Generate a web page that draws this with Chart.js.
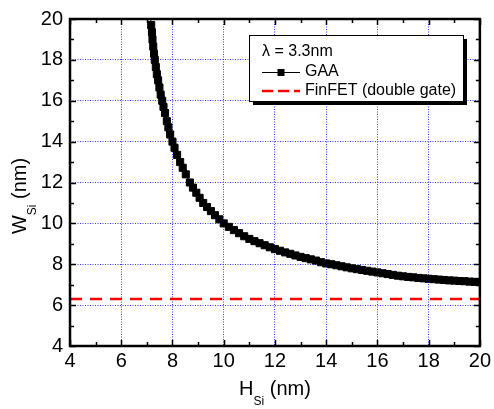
<!DOCTYPE html>
<html>
<head>
<meta charset="utf-8">
<script src="https://cdn.jsdelivr.net/npm/chart.js@4/dist/chart.umd.min.js"></script>
<style>
  html, body { margin: 0; padding: 0; background: #fff; }
  #wrap { width: 494px; height: 409px; }
</style>
</head>
<body>
<div id="wrap"><canvas id="c" width="494" height="409"></canvas></div>
<script>
// Silicon height H_Si (nm) and the matching GAA width W_Si (nm)
const hSi = [7.13, 7.17, 7.20, 7.22, 7.25, 7.28, 7.31, 7.35, 7.39, 7.44, 7.49, 7.54, 7.60, 7.65, 7.71,
  7.78, 7.84, 7.91, 8.00, 8.08, 8.18, 8.30, 8.40, 8.52, 8.68, 8.80, 8.93, 9.06, 9.20, 9.35, 9.50,
  9.66, 9.83, 10.0, 10.2, 10.4, 10.6, 10.8, 11.0, 11.2, 11.4, 11.6, 11.8, 12.0, 12.2, 12.4, 12.6,
  12.8, 13.0, 13.2, 13.4, 13.6, 13.8, 14.0, 14.2, 14.4, 14.6, 14.8, 15.0, 15.2, 15.4, 15.6, 15.8,
  16.0, 16.2, 16.4, 16.6, 16.8, 17.0, 17.2, 17.4, 17.6, 17.8, 18.0, 18.2, 18.4, 18.6, 18.8, 19.0,
  19.2, 19.4, 19.6, 19.8, 20.0];
const wGAA = [20.2, 19.7, 19.35, 19.0, 18.65, 18.3, 18.0, 17.65, 17.3, 17.0, 16.65, 16.3, 16.0, 15.7, 15.4,
  15.0, 14.7, 14.35, 14.0, 13.7, 13.35, 13.0, 12.72, 12.4, 12.0, 11.75, 11.5, 11.25, 11.0, 10.8, 10.6,
  10.4, 10.2, 10.0, 9.83, 9.67, 9.52, 9.37, 9.24, 9.13, 9.03, 8.93, 8.83, 8.74, 8.66, 8.58, 8.51,
  8.43, 8.36, 8.30, 8.24, 8.18, 8.10, 8.04, 8.00, 7.95, 7.90, 7.85, 7.80, 7.76, 7.72, 7.68, 7.64,
  7.60, 7.56, 7.52, 7.48, 7.44, 7.41, 7.38, 7.36, 7.33, 7.31, 7.29, 7.27, 7.25, 7.23, 7.21, 7.20,
  7.18, 7.17, 7.15, 7.14, 7.13];

// FinFET (double gate) width limit, constant over H_Si
const hFin = [4, 20];
const wFin = [6.3, 6.3];

// Axis ticks
const xTickValues = [4, 6, 8, 10, 12, 14, 16, 18, 20];
const yTickValues = [4, 6, 8, 10, 12, 14, 16, 18, 20];
const legendTitle = 'λ = 3.3nm';

const FONT = "'Liberation Sans', Arial, Helvetica, sans-serif";

const toPoints = (xs, ys) => xs.map((x, i) => ({ x, y: ys[i] }));

// Frame with inward ticks on all four sides, axis titles with subscripts, boxed legend
const decorations = {
  id: 'decorations',
  afterDraw(chart) {
    const { ctx, chartArea: a, scales } = chart;
    const xs = scales.x, ys = scales.y;
    ctx.save();

    // inward ticks (major every 2, minor every 1)
    ctx.strokeStyle = '#000';
    ctx.lineWidth = 1.5;
    ctx.beginPath();
    for (let v = xs.min; v <= xs.max; v += 1) {
      const len = (v % 2 === 0) ? 6 : 4;
      const px = Math.round(xs.getPixelForValue(v)) + 0.5;
      ctx.moveTo(px, a.bottom); ctx.lineTo(px, a.bottom - len);
      ctx.moveTo(px, a.top); ctx.lineTo(px, a.top + len);
    }
    for (let v = ys.min; v <= ys.max; v += 1) {
      const len = (v % 2 === 0) ? 6 : 4;
      const py = Math.round(ys.getPixelForValue(v)) + 0.5;
      ctx.moveTo(a.left, py); ctx.lineTo(a.left + len, py);
      ctx.moveTo(a.right, py); ctx.lineTo(a.right - len, py);
    }
    ctx.stroke();

    // frame
    ctx.lineWidth = 2.5;
    ctx.strokeRect(a.left, a.top, a.right - a.left, a.bottom - a.top);

    // axis titles
    const drawTitle = (main, sub, rest, x, y, rotate) => {
      ctx.save();
      ctx.translate(x, y);
      if (rotate) ctx.rotate(-Math.PI / 2);
      ctx.fillStyle = '#000';
      ctx.textBaseline = 'alphabetic';
      ctx.textAlign = 'left';
      ctx.font = `20px ${FONT}`;
      const w1 = ctx.measureText(main).width;
      ctx.font = `12px ${FONT}`;
      const w2 = ctx.measureText(sub).width;
      ctx.font = `20px ${FONT}`;
      const w3 = ctx.measureText(rest).width;
      let cx = -(w1 + w2 + w3) / 2;
      ctx.fillText(main, cx, 0); cx += w1;
      ctx.font = `12px ${FONT}`;
      ctx.fillText(sub, cx, 10); cx += w2;
      ctx.font = `20px ${FONT}`;
      ctx.fillText(rest, cx, 0);
      ctx.restore();
    };
    drawTitle('H', 'Si', ' (nm)', (a.left + a.right) / 2, 395, false);
    drawTitle('W', 'Si', ' (nm)', 26, 196, true);

    // legend box with drop shadow
    const bx = 249, by = 35, bw = 214, bh = 66;
    ctx.fillStyle = '#000';
    ctx.fillRect(bx + 4, by + 4, bw, bh);
    ctx.fillStyle = '#fff';
    ctx.fillRect(bx, by, bw, bh);
    ctx.lineWidth = 1;
    ctx.strokeStyle = '#000';
    ctx.strokeRect(bx + 0.5, by + 0.5, bw, bh);

    ctx.font = `16px ${FONT}`;
    ctx.textBaseline = 'middle';
    ctx.fillStyle = '#000';
    ctx.fillText(legendTitle, 262, 52);

    const ds = chart.data.datasets;
    const sx0 = 262, sx1 = 300, tx = 305;
    // GAA entry: line with square marker
    let ry = 72;
    ctx.strokeStyle = ds[0].borderColor;
    ctx.lineWidth = 1;
    ctx.setLineDash([]);
    ctx.beginPath(); ctx.moveTo(sx0, ry + 0.5); ctx.lineTo(sx1, ry + 0.5); ctx.stroke();
    ctx.fillStyle = ds[0].pointBackgroundColor;
    ctx.fillRect(281 - 3.5, ry - 3, 7, 7);
    ctx.fillStyle = '#000';
    ctx.fillText(ds[0].label, tx, ry);
    // FinFET entry: red dashes
    ry = 91;
    ctx.strokeStyle = ds[1].borderColor;
    ctx.lineWidth = 2.5;
    ctx.setLineDash([11, 5]);
    ctx.beginPath(); ctx.moveTo(sx0, ry); ctx.lineTo(sx1, ry); ctx.stroke();
    ctx.setLineDash([]);
    ctx.fillStyle = '#000';
    ctx.fillText(ds[1].label, tx, ry);

    ctx.restore();
  }
};

new Chart(document.getElementById('c'), {
  type: 'scatter',
  data: {
    datasets: [
      {
        label: 'GAA',
        data: toPoints(hSi, wGAA),
        showLine: true,
        borderColor: '#000',
        borderWidth: 1,
        pointStyle: 'rect',
        pointRadius: 5,
        pointBorderWidth: 1,
        pointBackgroundColor: '#000',
        pointBorderColor: '#000',
        order: 1
      },
      {
        label: 'FinFET (double gate)',
        data: toPoints(hFin, wFin),
        showLine: true,
        borderColor: '#ff0000',
        borderWidth: 2.5,
        borderDash: [12, 8],
        pointRadius: 0,
        order: 2
      }
    ]
  },
  options: {
    responsive: false,
    animation: false,
    events: [],
    layout: { padding: { top: 12, right: 12, left: 0, bottom: 0 } },
    plugins: { legend: { display: false }, tooltip: { enabled: false } },
    scales: {
      x: {
        type: 'linear',
        min: 4, max: 20,
        afterBuildTicks: s => { s.ticks = xTickValues.map(v => ({ value: v })); },
        afterFit: s => { s.height = 63; },
        ticks: { font: { family: FONT, size: 20 }, color: '#000', padding: 3, maxRotation: 0 },
        grid: { color: '#3c3cff', lineWidth: 1, drawTicks: false },
        border: { display: false, dash: [1, 1.5] }
      },
      y: {
        type: 'linear',
        min: 4, max: 20,
        afterBuildTicks: s => { s.ticks = yTickValues.map(v => ({ value: v })); },
        afterFit: s => { s.width = 70; },
        ticks: { font: { family: FONT, size: 20 }, color: '#000', padding: 7 },
        grid: { color: '#3c3cff', lineWidth: 1, drawTicks: false },
        border: { display: false, dash: [1, 1.5] }
      }
    }
  },
  plugins: [decorations]
});
</script>
</body>
</html>
